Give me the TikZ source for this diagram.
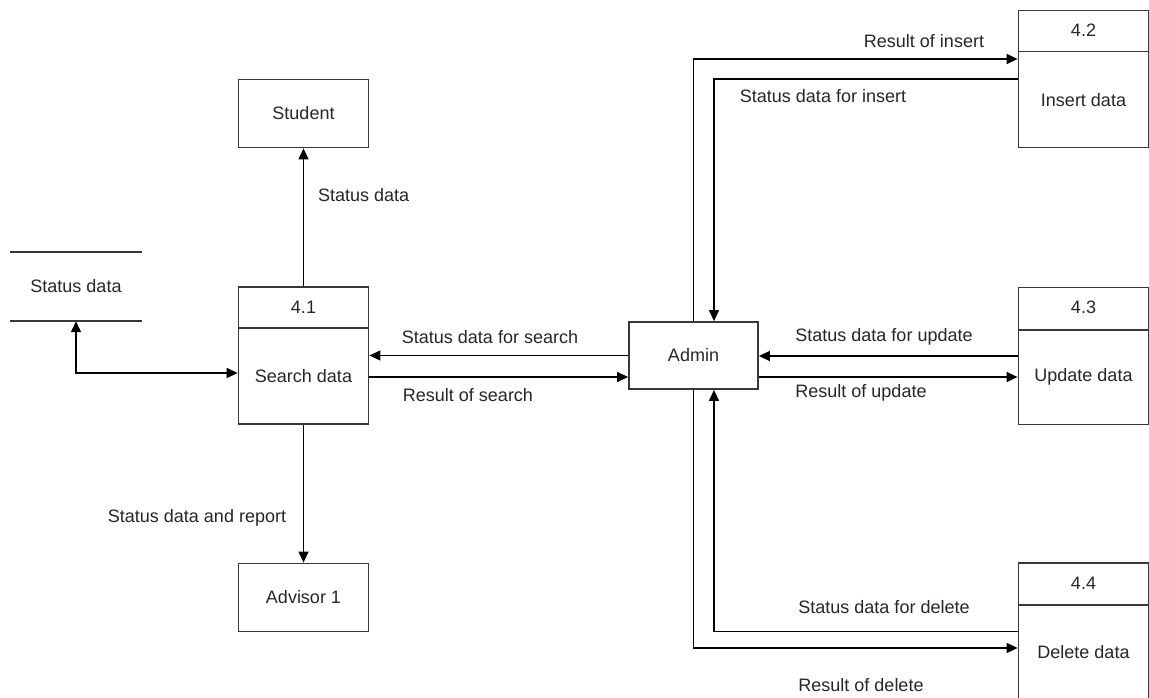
\documentclass[tikz,border=0pt]{standalone}
\usepackage{fontspec}
\setmainfont{Liberation Sans}
\usetikzlibrary{arrows.meta}
\tikzset{
  dfdtext/.style={font=\fontsize{18}{22}\selectfont, text=black!85},
  entity/.style={dfdtext, draw=black!78, line width=1.8pt, minimum width=130pt, minimum height=68pt, inner sep=0pt},
  process/.style={entity, minimum height=137pt},
  storebox/.style={dfdtext, minimum width=132pt, minimum height=69pt, inner sep=0pt},
  divider/.style={draw=black!78, line width=1.8pt},
  flow/.style={line width=1.3pt, -{Triangle[length=11pt,width=10pt]}},
  flowlabel/.style={dfdtext, inner sep=0pt}
}
\begin{document}
\begin{tikzpicture}[x=1pt, y=-1pt]
    \useasboundingbox (0,0) rectangle (1149,698);
    \node[entity] (student) at (303.5,113.5) {Student};
    \node[entity] (advisor) at (303.5,597.5) {Advisor 1};
    \node[entity, minimum width=129pt, minimum height=67pt] (admin) at (693.5,355.5) {Admin};
    \node[storebox] (store) at (76,286.5) {Status data};
    \draw[divider] (store.north west) -- (store.north east);
    \draw[divider] (store.south west) -- (store.south east);

    \node[process] (p41) at (303.5,355.5) {};
    \node[process] (p42) at (1083.5,79) {};
    \node[process] (p43) at (1083.5,356) {};
    \node[process] (p44) at (1083.5,631.5) {};
    \draw[divider] ([yshift=-42pt]p41.north west) -- ([yshift=-42pt]p41.north east);
    \draw[divider] ([yshift=-42pt]p42.north west) -- ([yshift=-42pt]p42.north east);
    \draw[divider] ([yshift=-43pt]p43.north west) -- ([yshift=-43pt]p43.north east);
    \draw[divider] ([yshift=-43pt]p44.north west) -- ([yshift=-43pt]p44.north east);
    \node[dfdtext] (p41num) at ([yshift=-21pt]p41.north) {4.1};
    \node[dfdtext] (p42num) at ([yshift=-21pt]p42.north) {4.2};
    \node[dfdtext] (p43num) at ([yshift=-21pt]p43.north) {4.3};
    \node[dfdtext] (p44num) at ([yshift=-21pt]p44.north) {4.4};
    \node[dfdtext] (p41name) at ([yshift=-21pt]p41.center) {Search data};
    \node[dfdtext] (p42name) at ([yshift=-21pt]p42.center) {Insert data};
    \node[dfdtext] (p43name) at ([yshift=-21pt]p43.center) {Update data};
    \node[dfdtext] (p44name) at ([yshift=-21pt]p44.center) {Delete data};

    \draw[flow] (p41.north) -- (student.south);
    \draw[flow] (p41.south) -- (advisor.north);
    \draw[flow, {Triangle[length=11pt,width=10pt]}-{Triangle[length=11pt,width=10pt]}] (store.south) |- ([yshift=-17.5pt]p41.west);
    \draw[flow] (admin.west) -- (admin.west -| p41.east);
    \draw[flow] ([yshift=-21.5pt]p41.east) -- ([yshift=-21.5pt]p41.east -| admin.west);
    \draw[flow] (p43.west) -- (p43.west -| admin.east);
    \draw[flow] ([yshift=-21.5pt]admin.east) -- ([yshift=-21.5pt]admin.east -| p43.west);
    \draw[flow] (admin.north) |- ([yshift=20pt]p42.west);
    \draw[flow] (p42.west) -| ([xshift=20.5pt]admin.north);
    \draw[flow] (p44.west) -| ([xshift=20.5pt]admin.south);
    \draw[flow] (admin.south) |- ([yshift=-16.5pt]p44.west);

    \node[flowlabel, anchor=west] (lstudent) at (318,195) {Status data};
    \node[flowlabel] (ladvisor) at (197,518) {Status data and report};
    \node[flowlabel] (lsearchin) at (490,337) {Status data for search};
    \node[flowlabel] (lsearchout) at (468,395) {Result of search};
    \node[flowlabel] (linsertout) at (924,41) {Result of insert};
    \node[flowlabel] (linsertin) at (823,96) {Status data for insert};
    \node[flowlabel] (lupdatein) at (884,337) {Status data for update};
    \node[flowlabel] (lupdateout) at (861,393) {Result of update};
    \node[flowlabel] (ldeletein) at (884,607) {Status data for delete};
    \node[flowlabel] (ldeleteout) at (861,685) {Result of delete};
\end{tikzpicture}
\end{document}
